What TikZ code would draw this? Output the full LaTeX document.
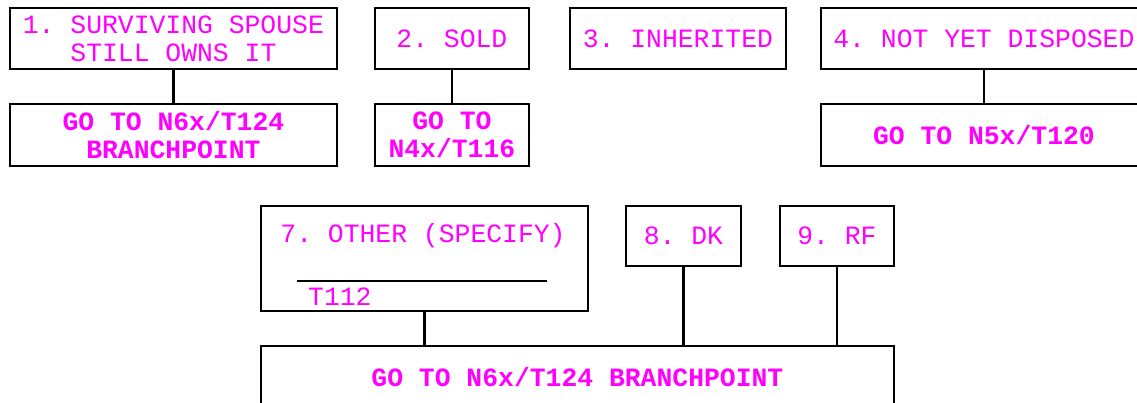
\documentclass[tikz,border=0pt]{standalone}
\usepackage{fontspec}
\setmonofont{Liberation Mono}
\usetikzlibrary{positioning}
\definecolor{optpink}{RGB}{255,0,255}

\tikzset{
 optbox/.style={draw,line width=1.8pt,text=optpink,font=\ttfamily\fontsize{26.4}{28}\selectfont,align=center,inner sep=0pt,anchor=north west},
 gobox/.style={optbox,font=\ttfamily\bfseries\fontsize{26.4}{28}\selectfont},
 optlabel/.style={text=optpink,font=\ttfamily\fontsize{26.4}{28}\selectfont,inner sep=0pt},
 link/.style={line width=2.2pt}
}

\begin{document}
\begin{tikzpicture}[x=1pt,y=-1pt]
\useasboundingbox (0,0) rectangle (1137,402);
% first row of answers
\node[optbox,minimum width=327pt,minimum height=61pt] (surv) at (9,7) {1. SURVIVING SPOUSE\\STILL OWNS IT};
\node[optbox,minimum width=154pt,minimum height=61pt] (sold) at (374,7) {2. SOLD};
\node[optbox,minimum width=216pt,minimum height=61pt] (inher) at (569,7) {3. INHERITED};
\node[optbox,minimum width=326pt,minimum height=61pt] (notyet) at (820,7) {4. NOT YET DISPOSED};
\node[gobox,minimum width=327pt,minimum height=62pt,below=33pt of surv] (gosix) {GO TO N6x/T124\\BRANCHPOINT};
\node[gobox,minimum width=154pt,minimum height=62pt,below=33pt of sold] (gofour) {GO TO\\N4x/T116};
\node[gobox,minimum width=326pt,minimum height=62pt,below=33pt of notyet] (gofive) {GO TO N5x/T120};
\foreach \a/\b in {surv/gosix,sold/gofour,notyet/gofive}
 \draw[link] (\a.south) -- (\b.north);
% second row
\node[optbox,minimum width=327pt,minimum height=105pt] (other) at (260,205) {};
\node[optlabel] (othertxt) at (423,236) {7. OTHER (SPECIFY)};
\draw[link] (297,281) -- (547,281);
\node[optlabel,anchor=west] (othercode) at (308,297) {T112};
\node[optbox,minimum width=115pt,minimum height=60pt] (dk) at (625,205) {8. DK};
\node[optbox,minimum width=114pt,minimum height=60pt] (rf) at (779,205) {9. RF};
\node[gobox,minimum width=633pt,minimum height=62pt] (gosixb) at (260,345) {GO TO N6x/T124 BRANCHPOINT};
\foreach \a in {other,dk,rf}
 \draw[link] (\a.south) -- (\a.south |- gosixb.north);
\end{tikzpicture}
\end{document}
